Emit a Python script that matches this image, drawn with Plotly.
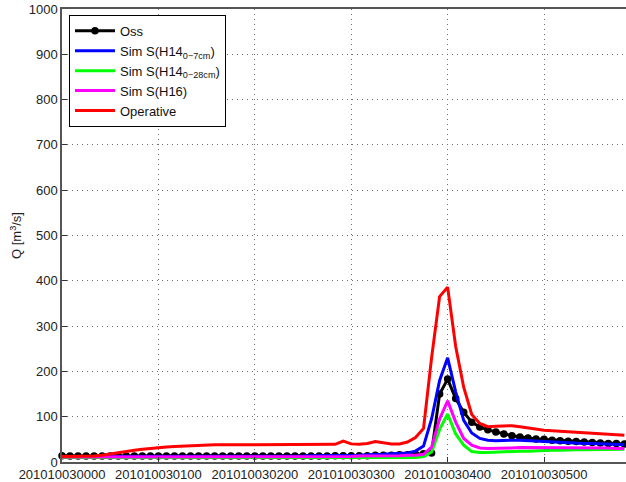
import plotly.graph_objects as go

# time axis: 5-minute samples starting 2010-10-03 00:00 (minutes from start)
minutes = list(range(0, 355, 5))
tick_minutes = [0, 60, 120, 180, 240, 300]
tick_labels = ["201010030000", "201010030100", "201010030200",
               "201010030300", "201010030400", "201010030500"]

oss = [14, 13, 13, 13, 13, 13, 13, 13, 13, 13,
       13, 13, 13, 13, 13, 13, 13, 13, 13, 13,
       13, 13, 13, 13, 13, 13, 13, 13, 13, 13,
       13, 13, 13, 13, 14, 14, 14, 14, 14, 15,
       15, 15, 16, 16, 17, 18, 20,
       150, 183, 140, 110, 88, 77, 71,
       66, 62, 58, 55, 53, 51, 50,
       48, 47, 46, 45, 44, 43, 42, 41, 41, 40]

sim_h14_7 = [12, 12, 12, 12, 12, 12, 12, 12, 12, 12,
             12, 12, 12, 12, 12, 12, 12, 12, 12, 12,
             12, 12, 12, 12, 13, 13, 13, 13, 13, 13,
             13, 14, 14, 14, 14, 15, 15, 15, 16, 16,
             17, 18, 19, 20, 24, 35, 95,
             180, 230, 155, 92, 64, 52, 48,
             47, 48, 48, 48, 47, 46, 45,
             44, 44, 43, 42, 41, 41, 40, 39, 39, 38]

sim_h14_28 = [10, 10, 10, 10, 10, 10, 10, 10, 10, 10,
              10, 10, 10, 10, 10, 10, 10, 10, 10, 10,
              10, 10, 10, 10, 10, 10, 10, 10, 10, 10,
              10, 10, 10, 10, 10, 10, 10, 10, 10, 10,
              10, 10, 10, 10, 10, 12, 22,
              72, 106, 62, 37, 23, 21, 21,
              22, 22, 23, 24, 24, 25, 26,
              26, 26, 27, 27, 27, 27, 28, 28, 28, 28]

sim_h16 = [11, 11, 11, 11, 11, 11, 11, 11, 11, 11,
           11, 11, 11, 11, 11, 11, 11, 11, 11, 11,
           11, 11, 11, 11, 11, 11, 11, 11, 11, 11,
           11, 11, 12, 12, 12, 12, 12, 13, 13, 13,
           13, 13, 14, 15, 15, 17, 33,
           95, 135, 88, 52, 37, 31, 30,
           30, 31, 31, 32, 32, 32, 31,
           31, 31, 31, 31, 31, 31, 31, 31, 30, 30]

operative = [12, 12, 12, 12, 13, 15, 18, 21, 24, 26,
             28, 30, 31, 33, 34, 35, 36, 37, 37, 38,
             38, 38, 39, 39, 39, 39, 39, 39, 39, 39,
             39, 38, 38, 38, 39, 46, 40, 39, 41, 45,
             43, 40, 40, 44, 54, 74, 230,
             365, 386, 255, 165, 105, 85, 78,
             79, 80, 80, 78, 75, 72, 70,
             69, 68, 67, 66, 65, 64, 63, 61, 60, 59]

series = [
    ("Oss", oss, "#000000"),
    ("Sim S(H14<sub>0\u22127cm</sub>)", sim_h14_7, "#0000ff"),
    ("Sim S(H14<sub>0\u221228cm</sub>)", sim_h14_28, "#00ff00"),
    ("Sim S(H16)", sim_h16, "#ff00ff"),
    ("Operative", operative, "#ff0000"),
]

fig = go.Figure()
for i, (name, vals, color) in enumerate(series):
    if i == 0:
        fig.add_trace(go.Scatter(x=minutes, y=vals, name=name, mode="lines+markers",
                                 line=dict(color=color, width=3),
                                 marker=dict(color=color, size=7.5),
                                 cliponaxis=False))
    else:
        fig.add_trace(go.Scatter(x=minutes, y=vals, name=name, mode="lines",
                                 line=dict(color=color, width=3)))

grid = dict(showgrid=True, griddash="1px,4px", gridcolor="#6f6f6f", gridwidth=1,
            zeroline=False, showline=True, linecolor="#555555", linewidth=1.5,
            ticks="inside", ticklen=5, tickcolor="#333333",
            tickfont=dict(size=13, color="#222222"))

fig.update_layout(
    width=626, height=482,
    margin=dict(l=62, r=0, t=9, b=15),
    plot_bgcolor="white", paper_bgcolor="white",
    font=dict(family="Liberation Sans, Arial, sans-serif", size=13, color="#222222"),
    showlegend=True,
    legend=dict(x=0.0124, y=0.987, xanchor="left", yanchor="top",
                bgcolor="white", bordercolor="#000000", borderwidth=1,
                font=dict(size=13, color="#111111"), itemwidth=40,
                tracegroupgap=0),
    xaxis=dict(range=[0, 351], tickvals=tick_minutes, ticktext=tick_labels,
               mirror=True, **grid),
    yaxis=dict(range=[0, 1000], dtick=100, mirror=False,
               title=dict(text="Q [m<sup>3</sup>/s]", font=dict(size=13), standoff=4),
               **grid),
)

fig.write_html("out.html")
